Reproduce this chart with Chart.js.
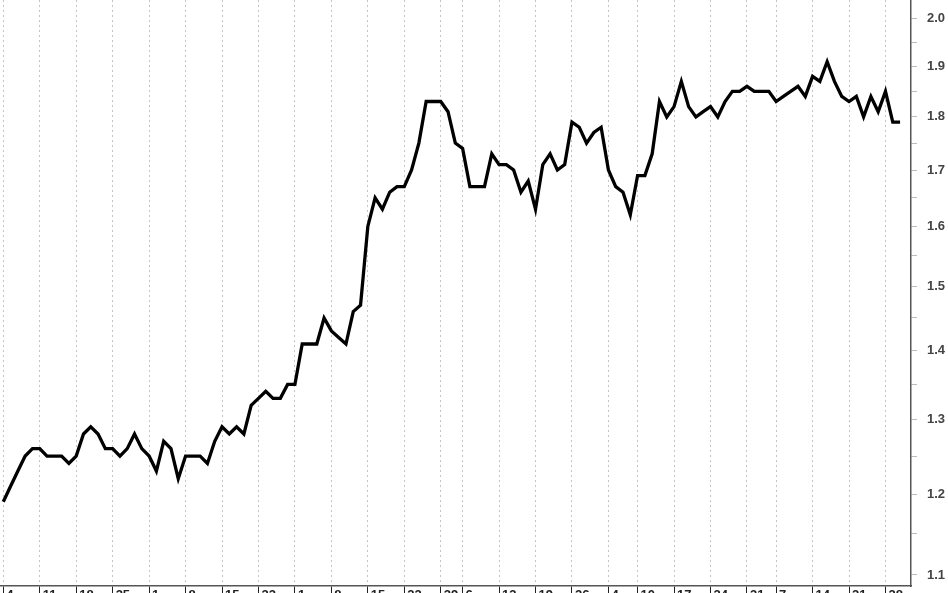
<!DOCTYPE html>
<html>
<head>
<meta charset="utf-8">
<script src="https://cdn.jsdelivr.net/npm/chart.js@4.4.1/dist/chart.umd.min.js"></script>
<style>
  html, body { margin: 0; padding: 0; background: #fff; overflow: hidden; }
  #wrap { width: 948px; height: 612px; }
</style>
</head>
<body>
<div id="wrap"><canvas id="chart" width="948" height="612"></canvas></div>
<script>
// week start labels (day of month) and trading days in each week
const weekLabels = ["4", "11", "18", "25", "1", "8", "15", "22", "1", "8", "15", "22", "29",
  "6", "13", "19", "26", "4", "10", "17", "24", "31", "7", "14", "21", "28"];
const weekDays = [5, 5, 5, 5, 5, 5, 5, 5, 5, 5, 5, 5, 3, 5, 5, 5, 5, 4, 5, 5, 5, 4, 5, 5, 5, 3];

// daily closes
const values = [
  1.19, 1.21, 1.23, 1.25, 1.26, 1.26, 1.25, 1.25, 1.25, 1.24,
  1.25, 1.28, 1.29, 1.28, 1.26, 1.26, 1.25, 1.26, 1.28, 1.26,
  1.25, 1.23, 1.27, 1.26, 1.22, 1.25, 1.25, 1.25, 1.24, 1.27,
  1.29, 1.28, 1.29, 1.28, 1.32, 1.33, 1.34, 1.33, 1.33, 1.35,
  1.35, 1.41, 1.41, 1.41, 1.45, 1.43, 1.42, 1.41, 1.46, 1.47,
  1.60, 1.65, 1.63, 1.66, 1.67, 1.67, 1.70, 1.75, 1.83, 1.83,
  1.83, 1.81, 1.75, 1.74, 1.67, 1.67, 1.67, 1.73, 1.71, 1.71,
  1.70, 1.66, 1.68, 1.63, 1.71, 1.73, 1.70, 1.71, 1.79, 1.78,
  1.75, 1.77, 1.78, 1.70, 1.67, 1.66, 1.62, 1.69, 1.69, 1.73,
  1.83, 1.80, 1.82, 1.87, 1.82, 1.80, 1.81, 1.82, 1.80, 1.83,
  1.85, 1.85, 1.86, 1.85, 1.85, 1.85, 1.83, 1.84, 1.85, 1.86,
  1.84, 1.88, 1.87, 1.91, 1.87, 1.84, 1.83, 1.84, 1.80, 1.84,
  1.81, 1.85, 1.79, 1.79
];

const yTicks = [1.1, 1.15, 1.2, 1.25, 1.3, 1.35, 1.4, 1.45, 1.5, 1.55, 1.6,
  1.65, 1.7, 1.75, 1.8, 1.85, 1.9, 1.95, 2.0];

// index of the first day of each week
const weekStarts = [];
let pos = 0;
weekDays.forEach((n) => {
  weekStarts.push(pos);
  pos += n;
});

const points = values.map((v, i) => ({ x: i, y: v }));
const axisFont = { family: "'Liberation Sans', Arial, sans-serif", size: 13, weight: "bold" };

new Chart(document.getElementById("chart"), {
  type: "line",
  data: {
    datasets: [
      {
        data: points,
        borderColor: "#000",
        borderWidth: 3.3,
        pointRadius: 0,
        tension: 0,
        fill: false,
      },
    ],
  },
  options: {
    responsive: false,
    animation: false,
    layout: { padding: 0 },
    plugins: {
      legend: { display: false },
      tooltip: { enabled: false },
    },
    scales: {
      x: {
        type: "linear",
        min: -0.45,
        max: 124.5,
        afterBuildTicks: (scale) => {
          scale.ticks = weekStarts.map((v) => ({ value: v }));
        },
        afterFit: (scale) => {
          scale.height = 26;
          scale.paddingLeft = 0;
          scale.paddingRight = 0;
        },
        border: { display: true, color: "#555", width: 1.5, dash: [2, 3] },
        grid: {
          color: "#c4c4c4",
          lineWidth: 1,
          drawTicks: true,
          tickLength: 7,
          tickColor: "#222",
          tickWidth: 1,
          tickBorderDash: [],
        },
        ticks: {
          autoSkip: false,
          maxRotation: 0,
          align: "start",
          labelOffset: 3,
          padding: -5,
          color: "#222",
          font: axisFont,
          callback: (value) => {
            const k = weekStarts.indexOf(value);
            return k >= 0 ? weekLabels[k] : "";
          },
        },
      },
      y: {
        type: "logarithmic",
        position: "right",
        min: 1.087,
        max: 2.041,
        afterBuildTicks: (scale) => {
          scale.ticks = yTicks.map((v) => ({ value: v }));
        },
        afterFit: (scale) => {
          scale.width = 37;
          scale.paddingTop = 0;
          scale.paddingBottom = 0;
        },
        border: { display: true, color: "#555", width: 1.5 },
        grid: {
          drawOnChartArea: false,
          drawTicks: true,
          tickLength: 6,
          tickColor: "#bbb",
          tickWidth: 1,
        },
        ticks: {
          autoSkip: false,
          padding: 10,
          color: "#444",
          font: axisFont,
          callback: (value) => {
            const t = Math.round(value * 100);
            return t % 10 === 0 ? (t / 100).toFixed(1) : "";
          },
        },
      },
    },
  },
});
</script>
</body>
</html>
